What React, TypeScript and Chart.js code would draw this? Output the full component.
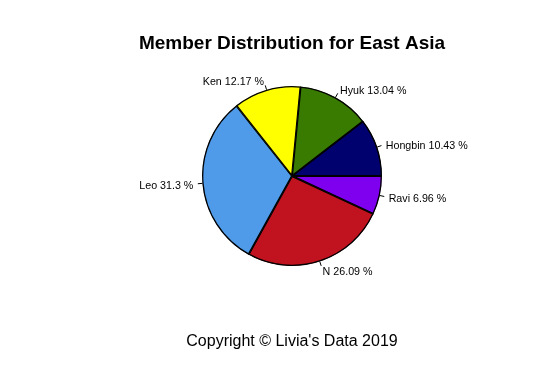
import React, { useEffect, useRef } from "react";
import { Chart, registerables } from "chart.js";

Chart.register(...registerables);

// R-style pie: counter-clockwise from 3 o'clock
const members = ["Hongbin", "Hyuk", "Ken", "Leo", "N", "Ravi"];
const counts = [12, 15, 14, 36, 30, 8];
const percents = ["10.43", "13.04", "12.17", "31.3", "26.09", "6.96"];
const colors = ["#00006e", "#397a00", "#ffff00", "#4f9be9", "#c0131f", "#7f00ef"];
const titleText = "Member Distribution for East Asia";
const footerText = "Copyright \u00A9 Livia's Data 2019";

export default function App() {
  const ref = useRef<HTMLCanvasElement>(null);
  useEffect(() => {
    const canvas = ref.current!;
    // Reverse order so Chart.js clockwise drawing mimics R's counter-clockwise
    const labels = [...members].reverse();
    const data = [...counts].reverse();
    const bg = [...colors].reverse();
    const pct = [...percents].reverse();
    const labelPlugin = {
      id: "rlabels",
      afterDraw(chart: any) {
        const ctx = chart.ctx;
        ctx.save();
        ctx.fillStyle = "#000";
        ctx.font = "bold 19px 'Liberation Sans', Arial, sans-serif";
        ctx.textAlign = "center";
        ctx.textBaseline = "middle";
        ctx.fillText(titleText, 292, 44);
        ctx.font = "16px 'Liberation Sans', Arial, sans-serif";
        ctx.fillText(footerText, 292, 342);
        const meta = chart.getDatasetMeta(0);
        ctx.font = "10.7px 'Liberation Sans', Arial, sans-serif";
        ctx.strokeStyle = "#000";
        ctx.lineWidth = 1;
        meta.data.forEach((arc: any, i: number) => {
          const mid = (arc.startAngle + arc.endAngle) / 2;
          const r = arc.outerRadius;
          const c = Math.cos(mid), s = Math.sin(mid);
          ctx.beginPath();
          ctx.moveTo(arc.x + c * r, arc.y + s * r);
          ctx.lineTo(arc.x + c * r * 1.05, arc.y + s * r * 1.05);
          ctx.stroke();
          ctx.textAlign = c > 0 ? "left" : "right";
          ctx.textBaseline = "middle";
          ctx.fillText(labels[i] + " " + pct[i] + " %", arc.x + c * r * 1.1, arc.y + s * r * 1.1 + 1.5);
        });
        ctx.restore();
      },
    };
    const chart = new Chart(canvas, {
      type: "pie",
      data: {
        labels,
        datasets: [
          {
            data,
            backgroundColor: bg,
            borderColor: "#000",
            borderWidth: 1,
            borderAlign: "inner" as any,
          },
        ],
      },
      options: {
        responsive: false,
        animation: false,
        rotation: 90,
        layout: { padding: { left: 202, right: 545 - 382, top: 86, bottom: 371 - 266 } },
        plugins: {
          legend: { display: false },
          title: { display: false },
          tooltip: { enabled: false },
        },
      },
      plugins: [labelPlugin],
    });
    return () => chart.destroy();
  }, []);
  return (
    <div style={{ position: "fixed", left: 0, top: 0, width: 545, height: 371, background: "#fff" }}>
      <canvas ref={ref} width={545} height={371} />
    </div>
  );
}
